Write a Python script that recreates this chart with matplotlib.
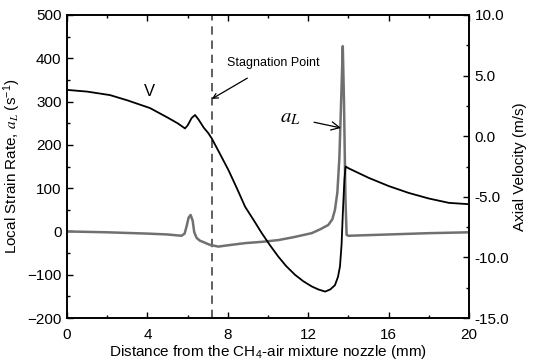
import numpy as np
import matplotlib
matplotlib.use("Agg")
import matplotlib.pyplot as plt
from matplotlib.ticker import MultipleLocator, FormatStrFormatter

plt.rcParams.update({
    "font.family": ["Liberation Sans", "DejaVu Sans"],
    "mathtext.fontset": "stix",
    "font.size": 11,
})

# local strain rate a_L (s^-1), left axis
x_al = [0, 2, 4, 5, 5.7, 5.85, 5.95, 6.05, 6.15, 6.25, 6.33, 6.45, 6.6,
        7.11, 7.53, 8.0, 8.86, 9.7, 10.51, 11.3, 12.17, 12.6, 13.0, 13.2,
        13.33, 13.45, 13.55, 13.65, 13.72, 13.78, 13.85, 13.91, 14.0,
        16.0, 18.0, 20.0]
a_l = [0, -2, -5, -7, -10, -5, 12, 32, 38, 25, -2, -15, -21,
       -31, -35, -32, -27, -24, -20, -13, -4, 5, 15, 28,
       50, 90, 170, 320, 428, 300, 80, -8, -10,
       -7, -4, -2]

# axial velocity V (m/s), right axis
x_v = [0, 1, 2.14, 3, 4.13, 5, 5.5, 5.87, 6.0, 6.2, 6.37, 6.55, 6.8, 7.03,
       7.2, 7.6, 8.03, 8.45, 8.86, 9.3, 9.69, 10.1, 10.51, 10.9, 11.34,
       11.75, 12.17, 12.5, 12.84, 13.1, 13.33, 13.48, 13.58, 13.66, 13.72,
       13.8, 13.86, 14.0, 15.0, 16.0, 17.0, 18.0, 19.0, 20.0]
v = [3.82, 3.68, 3.39, 2.96, 2.32, 1.54, 1.07, 0.64, 0.89, 1.50, 1.75, 1.36,
     0.71, 0.25, -0.18, -1.43, -2.79, -4.29, -5.82, -6.96, -8.0, -9.0,
     -9.93, -10.71, -11.43, -11.96, -12.39, -12.64, -12.82, -12.64, -12.29,
     -11.61, -10.75, -8.93, -6.43, -3.57, -2.5, -2.64, -3.43, -4.11, -4.68,
     -5.14, -5.5, -5.61]

x_stag = 7.2

fig = plt.figure(figsize=(5.37, 3.62), dpi=100)
ax = fig.add_axes([0.1248, 0.1215, 0.7486, 0.8371])
ax2 = ax.twinx()

ax.plot(x_al, a_l, color="#707070", lw=1.8, zorder=3)
ax2.plot(x_v, v, color="black", lw=1.3, zorder=3)
ax.axvline(x_stag, color="#444444", lw=1.2, ls=(0, (5, 3.5)), zorder=2)

ax.set_xlim(0, 20)
ax.set_ylim(-200, 500)
ax2.set_ylim(-15, 10)

ax.xaxis.set_major_locator(MultipleLocator(4))
ax.xaxis.set_minor_locator(MultipleLocator(2))
ax.yaxis.set_major_locator(MultipleLocator(100))
ax.yaxis.set_minor_locator(MultipleLocator(50))
ax2.yaxis.set_major_locator(MultipleLocator(5))
ax2.yaxis.set_minor_locator(MultipleLocator(2.5))
ax2.yaxis.set_major_formatter(FormatStrFormatter("%.1f"))

for a in (ax, ax2):
    a.tick_params(which="both", direction="in", width=1.0, pad=4)
    a.tick_params(which="major", length=4.5)
    a.tick_params(which="minor", length=2.5)
    for s in a.spines.values():
        s.set_linewidth(1.2)
ax.tick_params(which="both", top=True)
ax.tick_params(axis="x", pad=7)

ax.set_xlabel("Distance from the CH$_\\mathregular{4}$-air mixture nozzle (mm)",
              labelpad=1)
ax.set_ylabel("Local Strain Rate, $a_L$ (s$^\\mathregular{-1}$)", labelpad=3)
ax2.set_ylabel("Axial Velocity (m/s)", labelpad=3)

ax.text(4.1, 323, "V", ha="center", va="center", fontsize=12)
ax.annotate("Stagnation Point", xy=(x_stag, 306), xytext=(7.95, 389),
            ha="left", va="center", fontsize=9,
            arrowprops=dict(arrowstyle="->", color="black", lw=0.9,
                            shrinkA=9, shrinkB=0))
ax.annotate("$a_L$", xy=(13.63, 239), xytext=(11.1, 264),
            ha="center", va="center", fontsize=15,
            arrowprops=dict(arrowstyle="->", color="black", lw=0.9,
                            shrinkA=8, shrinkB=0))

fig.savefig("out.png", dpi=100)
